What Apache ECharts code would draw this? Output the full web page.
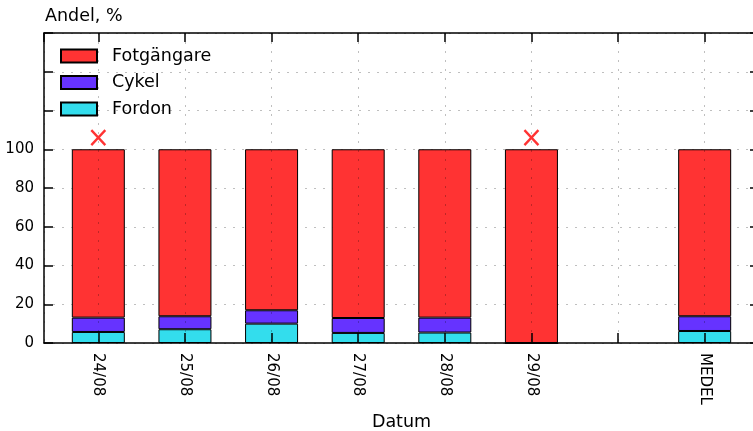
<!DOCTYPE html>
<html>
<head>
<meta charset="utf-8">
<script src="https://cdn.jsdelivr.net/npm/echarts@6/dist/echarts.min.js"></script>
<style>
  html, body { margin: 0; padding: 0; background: #fff; }
  #chart { width: 753px; height: 431px; }
</style>
</head>
<body>
<div id="chart"></div>
<script>
// kategorier (tom plats mellan 29/08 och MEDEL)
const categories = ['24/08', '25/08', '26/08', '27/08', '28/08', '29/08', '', 'MEDEL']
// andelar i procent
const fordon = [5.7, 7.1, 10.0, 5.2, 5.4, 0, null, 6.2]
const cykel = [7.4, 6.7, 6.9, 7.7, 7.7, 0, null, 7.6]
const fotgangare = [86.9, 86.2, 83.1, 87.1, 86.9, 100, null, 86.2]
// röda kryss ovanför staplarna
const markerCats = ['24/08', '29/08']
const markerValues = [106, 106]
// y-axelns etiketter
const yTickLabels = [0, 20, 40, 60, 80, 100]

const font = 'DejaVu Sans'
const gridColor = 'rgba(0, 0, 0, 0.25)'

// [värde, position] så att staplingen sker på värdedimensionen
const toPairs = (arr) => categories
  .map((c, i) => [arr[i], i])
  .filter(d => d[0] !== null)

const isWhole = (v) => Math.abs(v - Math.round(v)) < 1e-6

const barSeries = (name, arr, color) => ({
  name,
  type: 'bar',
  stack: 'andel',
  barWidth: 53,
  encode: { x: 1, y: 0 },
  data: toPairs(arr),
  itemStyle: { color, borderColor: '#000', borderWidth: 1 }
})

const frameLine = { onZero: false, lineStyle: { color: '#000', width: 1.5 } }
const frameTick = (length) => ({ show: true, inside: true, length, lineStyle: { color: '#000', width: 1.5 } })

const xCommon = {
  type: 'value',
  min: -0.627,
  max: 7.627,
  minInterval: 1,
  maxInterval: 1,
  z: 10
}

const yCommon = {
  type: 'value',
  min: 0,
  max: 160,
  interval: 20
}

const chart = echarts.init(document.getElementById('chart'))

chart.setOption({
  animation: false,
  title: {
    text: 'Andel, %',
    left: 45,
    top: 7,
    padding: 0,
    textStyle: { fontFamily: font, fontSize: 17.5, fontWeight: 'normal', color: '#000' }
  },
  grid: { left: 44, top: 33, right: -6, bottom: 88, containLabel: false, outerBoundsMode: 'none' },
  legend: {
    orient: 'vertical',
    left: 60,
    top: 47,
    padding: 0,
    itemWidth: 36,
    itemHeight: 13,
    itemGap: 8.5,
    icon: 'rect',
    data: ['Fotgängare', 'Cykel', 'Fordon'],
    textStyle: { fontFamily: font, fontSize: 17.5, color: '#000', padding: [0, 0, 0, 10] }
  },
  xAxis: [
    {
      ...xCommon,
      position: 'bottom',
      name: 'Datum',
      nameLocation: 'middle',
      nameGap: 70,
      nameTextStyle: { fontFamily: font, fontSize: 17.5, color: '#000' },
      axisLine: frameLine,
      axisTick: frameTick(10),
      axisLabel: {
        rotate: -90,
        margin: 10,
        fontFamily: font,
        fontSize: 15,
        color: '#000',
        showMinLabel: false,
        showMaxLabel: false,
        formatter: (v) => isWhole(v) ? categories[Math.round(v)] : ''
      },
      splitLine: { show: true, lineStyle: { color: gridColor, type: [2, 7], width: 1 } }
    },
    {
      ...xCommon,
      position: 'top',
      axisLine: frameLine,
      axisTick: frameTick(9),
      axisLabel: { show: false },
      splitLine: { show: false }
    }
  ],
  yAxis: [
    {
      ...yCommon,
      position: 'left',
      axisLine: { show: true, ...frameLine },
      axisTick: frameTick(9),
      axisLabel: {
        margin: 10,
        fontFamily: font,
        fontSize: 15,
        color: '#000',
        formatter: (v) => yTickLabels.includes(v) ? String(v) : ''
      },
      splitLine: { show: true, lineStyle: { color: gridColor, type: [2, 7], width: 1 } }
    },
    {
      ...yCommon,
      position: 'right',
      axisLine: { show: true, ...frameLine },
      axisTick: frameTick(9),
      axisLabel: { show: false },
      splitLine: { show: false }
    }
  ],
  series: [
    barSeries('Fordon', fordon, '#33dded'),
    barSeries('Cykel', cykel, '#6633ff'),
    barSeries('Fotgängare', fotgangare, '#ff3333'),
    {
      name: 'markering',
      type: 'scatter',
      symbol: 'path://M0,0L10,10M10,0L0,10',
      symbolSize: [14, 15],
      data: markerCats.map((c, i) => [categories.indexOf(c), markerValues[i]]),
      itemStyle: { color: 'none', borderColor: '#ff0000', borderWidth: 2.5 },
      z: 5
    }
  ]
})
</script>
</body>
</html>
